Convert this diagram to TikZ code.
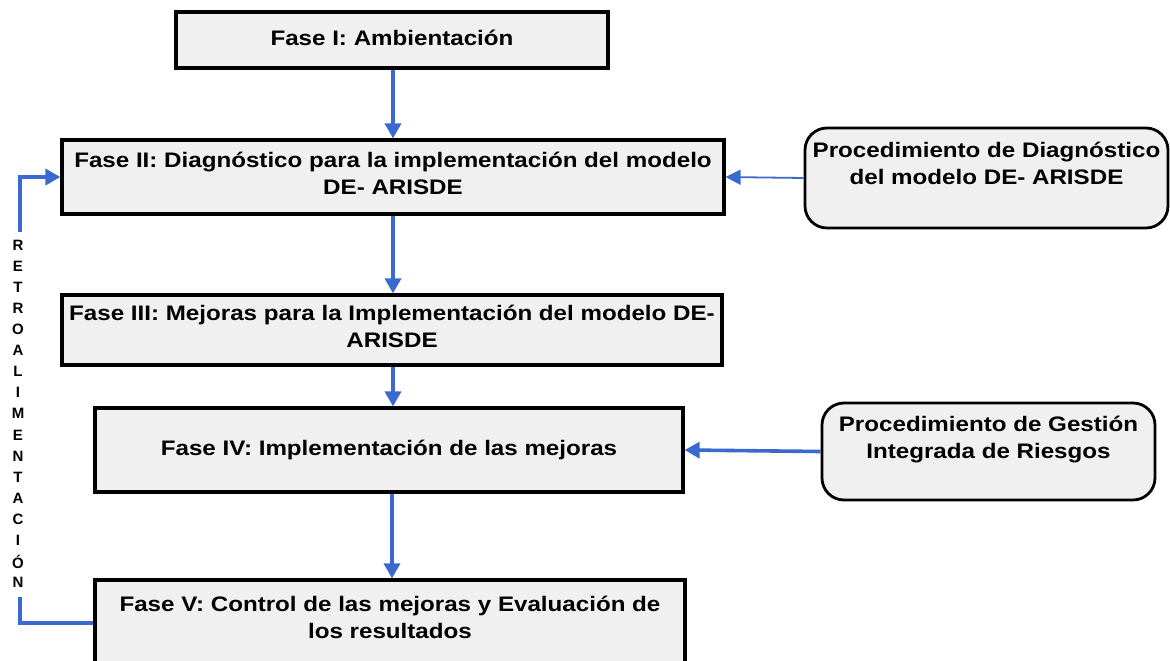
\documentclass[tikz,border=0pt]{standalone}
\usepackage{fontspec}
\setmainfont{Liberation Sans}
\usetikzlibrary{arrows.meta}
\definecolor{arrowblue}{HTML}{3A6AD0}
\definecolor{boxfill}{HTML}{F0F0F0}
\newcommand{\sxt}[1]{\scalebox{1.15}[1]{\begin{tabular}{@{}c@{}}#1\end{tabular}}}
\begin{document}
\begin{tikzpicture}[x=1pt,y=-1pt,
  phasebox/.style={draw=black, line width=3.2pt, fill=boxfill, inner sep=0pt},
  procbox/.style={draw=black, line width=2.8pt, fill=boxfill, rounded corners=22pt, inner sep=0pt},
  txt/.style={font=\fontsize{21}{27}\selectfont\bfseries, inner sep=0pt, align=center},
  flow/.style={draw=arrowblue, line width=3.6pt, -{Triangle[length=15pt,width=16pt]}},
  thinflow/.style={draw=arrowblue, line width=1.8pt, -{Triangle[length=15pt,width=15pt]}},
  fbline/.style={draw=arrowblue, line width=3.6pt},
  letter/.style={font=\fontsize{15}{15}\selectfont\bfseries, inner sep=0pt}
]
\useasboundingbox (0,0) rectangle (1170,661);
\clip (0,0) rectangle (1170,661);

\node[phasebox, minimum width=432pt, minimum height=56pt] (f1) at (392,40) {};
\node[txt] (t1) at (392,40) {\sxt{Fase I: Ambientación}};

\node[phasebox, minimum width=662pt, minimum height=74pt] (f2) at (393,177) {};
\node[txt] (t2) at (393,176) {\sxt{Fase II: Diagnóstico para la implementación del modelo\\DE- ARISDE}};

\node[phasebox, minimum width=660pt, minimum height=70pt] (f3) at (392,330) {};
\node[txt] (t3) at (392,329) {\sxt{Fase III: Mejoras para la Implementación del modelo DE-\\ARISDE}};

\node[phasebox, minimum width=588pt, minimum height=84pt] (f4) at (389,450) {};
\node[txt] (t4) at (389,450) {\sxt{Fase IV: Implementación de las mejoras}};

\node[phasebox, minimum width=590pt, minimum height=86pt] (f5) at (390,623) {};
\node[txt] (t5) at (390,620) {\sxt{Fase V: Control de las mejoras y Evaluación de\\los resultados}};

\node[procbox, minimum width=363pt, minimum height=100pt] (p1) at (986.5,178) {};
\node[txt] (tp1) at (986.5,166) {\sxt{Procedimiento de Diagnóstico\\del modelo DE- ARISDE}};

\node[procbox, minimum width=333pt, minimum height=97pt] (p2) at (988.5,451.5) {};
\node[txt] (tp2) at (988.5,440) {\sxt{Procedimiento de Gestión\\Integrada de Riesgos}};

\draw[flow] (f1.south -| 393,0) -- (f2.north -| 393,0);
\draw[flow] (f2.south -| 393,0) -- (f3.north -| 393,0);
\draw[flow] (f3.south -| 393,0) -- (f4.north -| 393,0);
\draw[flow] (f4.south -| 392,0) -- (f5.north -| 392,0);

\draw[thinflow] (p1.west) -- (f2.east);
\draw[flow] (p2.west) -- (f4.east);

\coordinate (fbBottom) at (20,597);
\coordinate (fbTop) at (20,232);
\draw[fbline] (f5.west) -| (fbBottom);
\draw[flow] (fbTop) |- (f2.west);

\foreach \ch [count=\i from 0] in {R,E,T,R,O,A,L,I,M,E,N,T,A,C,I,Ó,N}
  \node[letter] (L\i) at (18,{245+\i*21.1}) {\ch};
\end{tikzpicture}
\end{document}
